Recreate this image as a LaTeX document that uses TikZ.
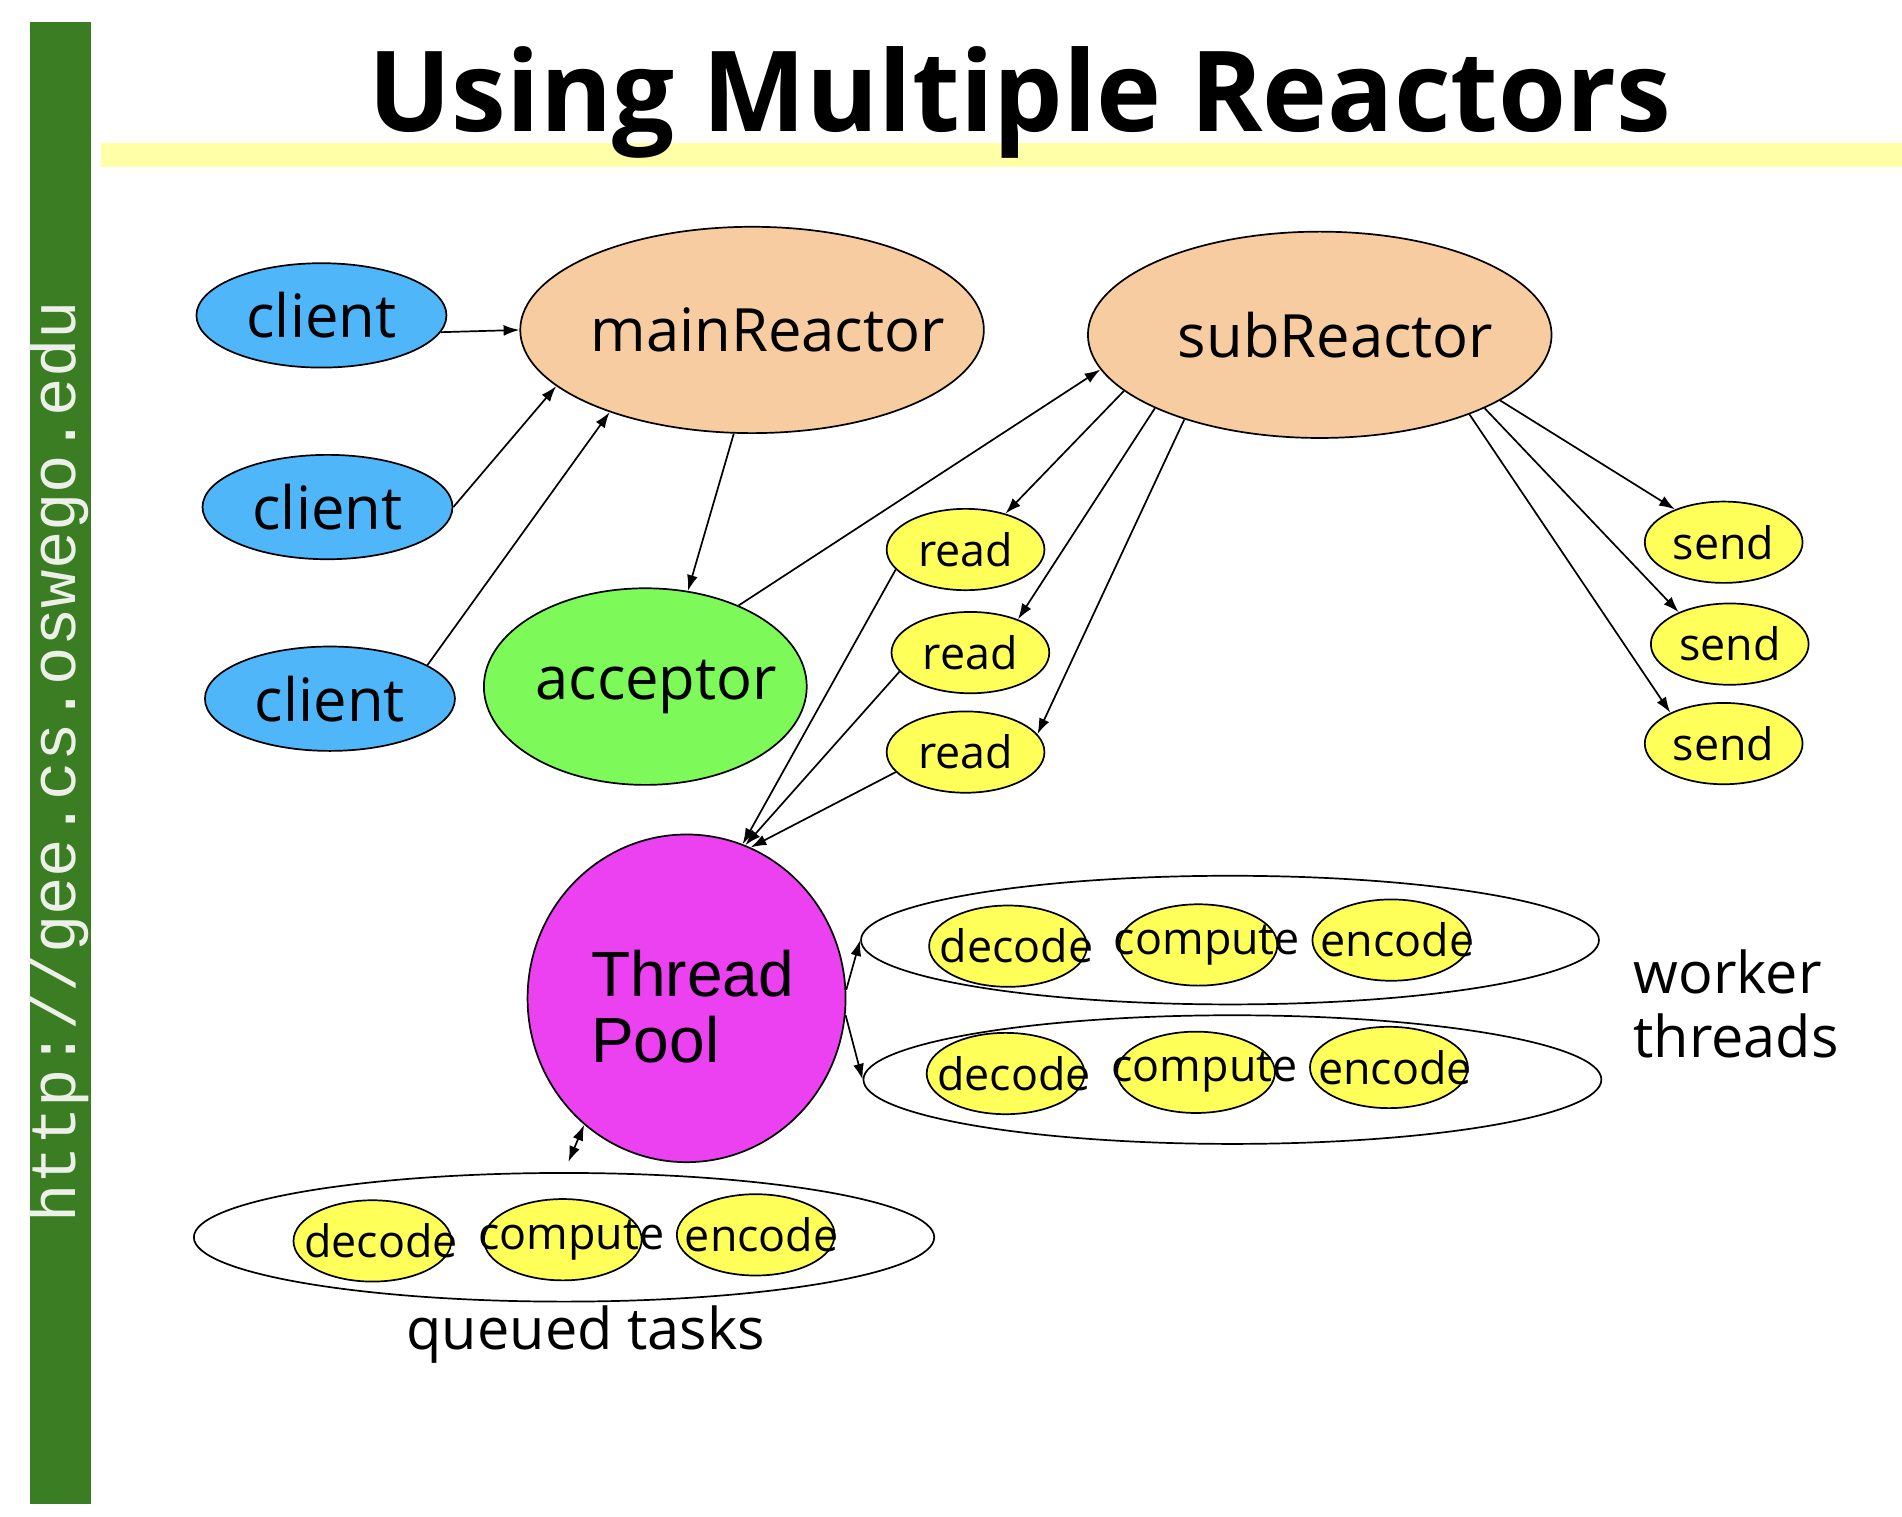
\documentclass[tikz,border=0pt]{standalone}
\usepackage{fontspec}
\setmainfont{Open Sans}
\newfontfamily\poolfont{Liberation Sans}
\newfontfamily\urlfont{Liberation Mono}
\usetikzlibrary{shapes.geometric,arrows.meta}

\definecolor{bargreen}{RGB}{58,125,34}
\definecolor{bandyellow}{RGB}{255,255,168}
\definecolor{clientblue}{RGB}{80,182,250}
\definecolor{reactorpeach}{RGB}{247,204,160}
\definecolor{acceptgreen}{RGB}{125,250,90}
\definecolor{taskyellow}{RGB}{255,255,90}
\definecolor{poolmagenta}{RGB}{235,65,240}
\definecolor{urlgray}{RGB}{236,240,232}

\begin{document}
\begin{tikzpicture}[x=0.01cm, y=-0.01cm,
    bigtext/.style={font=\fontsize{14}{16}\selectfont},
    every label/.style={font=\fontsize{10.5}{12}\selectfont},
    oval/.style={ellipse, draw, inner sep=0pt, line width=0.4pt},
    client/.style={oval, fill=clientblue, minimum width=2.06cm, minimum height=0.86cm},
    reactor/.style={oval, fill=reactorpeach, minimum width=3.82cm, minimum height=1.70cm},
    task/.style={oval, fill=taskyellow, minimum width=1.30cm, minimum height=0.67cm},
    group/.style={oval, minimum width=6.08cm, minimum height=1.06cm},
    >={Latex[length=1.3mm,width=0.9mm]}]

  \useasboundingbox (0,0) rectangle (1568,1250);

  % slide frame
  \fill[bargreen] (25,18) rectangle (75,1240);
  \fill[bandyellow] (83,118) rectangle (1568,138);
  \node[rotate=90, text=urlgray, font=\urlfont\fontsize{15}{15}\selectfont] (url) at (49,628)
    {http://gee.cs.oswego.edu};
  \node[anchor=base, inner sep=0pt] (title) at (841,108)
    {\resizebox{10.73cm}{0.70cm}{\bfseries Using Multiple Reactors}};

  % group ellipses behind the tasks
  \node[group] (W1) at (1014,775) {};
  \node[group] (W2) at (1016,890) {};
  \node[group, minimum width=6.10cm] (Q) at (465,1020) {};

  \node[client, label={[bigtext]center:client}] (C1) at (265,260) {};
  \node[client, label={[bigtext]center:client}] (C2) at (270,418) {};
  \node[client, label={[bigtext]center:client}] (C3) at (272,576) {};
  \node[reactor, label={[bigtext, xshift=0.13cm]center:mainReactor}] (MR) at (620,272) {};
  \node[reactor, label={[bigtext, xshift=0.13cm]center:subReactor}] (SR) at (1088,276) {};
  \node[oval, fill=acceptgreen, minimum width=2.66cm, minimum height=1.62cm,
    label={[bigtext, xshift=0.09cm]center:acceptor}] (A) at (532,566) {};
  \node[oval, fill=poolmagenta, minimum width=2.62cm, minimum height=2.70cm,
    label={[align=left, xshift=0.05cm, yshift=-0.07cm,
      font=\poolfont\fontsize{15}{15.5}\selectfont]center:{Thread\\Pool}}] (TP) at (566,823) {};

  \node[task, label=center:read] (R1) at (796,453) {};
  \node[task, label=center:read] (R2) at (800,538) {};
  \node[task, label=center:read] (R3) at (796,620) {};
  \node[task, label=center:send] (S1) at (1421,447) {};
  \node[task, label=center:send] (S2) at (1426,531) {};
  \node[task, label=center:send] (S3) at (1421,613) {};

  \foreach \x/\y/\r in {831/780/a, 829/885/b, 307/1023/c} {
    \node[task, label={[xshift=0.07cm]center:decode}] (dec\r) at (\x,\y) {};
    \node[task, label={[xshift=0.07cm]center:compute}] (comp\r) at (\x+157,\y-1) {};
    \node[task, label={[xshift=0.05cm]center:encode}] (enc\r) at (\x+316,\y-5) {};
  }

  \node[anchor=west, align=left, inner sep=0pt, font=\fontsize{13.5}{15}\selectfont] (WT)
    at (1346,828) {worker\\threads};
  \node[font=\fontsize{13.5}{15}\selectfont] (QT) at (483,1100) {queued tasks};

  % connectors
  \draw[->] (C1.-8) -- (MR.180);
  \draw[->] (C2.east) -- (MR.196);
  \draw[->] (C3.19) -- (MR.210);
  \draw[->] (MR.260) -- (A.66);
  \draw[->] (A.41) -- (SR.189);
  \draw[->] (SR.196) -- (R1.42);
  \draw[->] (SR.204) -- (R2.35);
  \draw[->] (SR.212) -- (R3.14);
  \draw[->] (SR.-20) -- (S1.146);
  \draw[->] (SR.-24) -- (S2.148);
  \draw[->] (SR.-28) -- (S3.150);
  \draw[->] (R1.196) -- (TP.70);
  \draw[->] (R2.195) -- (TP.69);
  \draw[->] (R3.196) -- (TP.67);
  \draw[->] (TP.3) -- (W1.west);
  \draw[->] (TP.-6) -- (W2.west);
  \draw[<->, shorten <=2.6pt] (Q.north) -- (TP.231);
\end{tikzpicture}
\end{document}
